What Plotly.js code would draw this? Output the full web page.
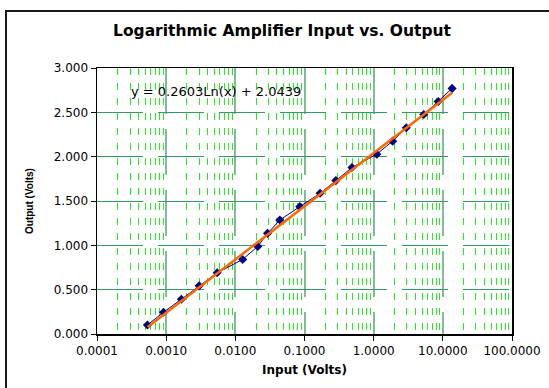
<!DOCTYPE html>
<html>
<head>
<meta charset="utf-8">
<script src="https://cdn.plot.ly/plotly-3.0.1.min.js"></script>
<style>
  html, body { margin: 0; padding: 0; background: #ffffff; overflow: hidden; }
  #wrap { position: relative; width: 549px; height: 388px; overflow: hidden; }
  #chart { position: absolute; left: 0; top: 0; width: 549px; height: 388px; }
  #frame { position: absolute; left: 5px; top: 10px; width: 544px; height: 378px;
           border-left: 2px solid #1a1a1a; border-top: 2px solid #1a1a1a;
           border-right: none; border-bottom: none;
           pointer-events: none; box-sizing: border-box; }
</style>
</head>
<body>
<div id="wrap">
  <div id="chart"></div>
  <div id="frame"></div>
</div>
<script>
// Measured data (Input volts vs Output volts)
const inputVolts  = [0.000536, 0.000916, 0.00166, 0.0030, 0.00546, 0.01276, 0.0211, 0.0292, 0.0440,
                     0.0855, 0.168, 0.284, 0.485, 1.11, 1.88, 2.96, 5.30, 8.55, 13.6];
const outputVolts = [0.102, 0.245, 0.392, 0.543, 0.690, 0.841, 0.988, 1.135, 1.285,
                     1.436, 1.587, 1.730, 1.877, 2.028, 2.175, 2.326, 2.476, 2.623, 2.770];

// Logarithmic trendline end points
const trendX = [0.00054, 13.6];
const trendY = [0.080, 2.722];

const trendLabel = "y = 0.2603Ln(x) + 2.0439";

const yTickVals = [0, 0.5, 1, 1.5, 2, 2.5, 3];
const xTickVals = [0.0001, 0.001, 0.01, 0.1, 1, 10, 100];
const xTickText = ["0.0001", "0.0010", "0.0100", "0.1000", "1.0000", "10.0000", "100.0000"];

// minor gridline positions 2..9 per decade
const minorVals = [];
for (let e = -4; e < 2; e++) {
  for (let m = 2; m <= 9; m++) minorVals.push(m * Math.pow(10, e));
}

const traces = [
  {
    x: inputVolts, y: outputVolts, type: 'scatter', mode: 'lines+markers',
    line: { color: '#000080', width: 1 },
    marker: { symbol: 'diamond', size: 7, color: '#000080' },
    hoverinfo: 'x+y'
  },
  {
    x: trendX, y: trendY, type: 'scatter', mode: 'lines',
    line: { color: '#FF6600', width: 2.5 },
    hoverinfo: 'skip'
  }
];

const layout = {
  width: 549, height: 388,
  margin: { l: 97, r: 37, t: 68, b: 54 },
  paper_bgcolor: '#ffffff', plot_bgcolor: '#ffffff',
  showlegend: false,
  font: { family: 'DejaVu Sans, Arial, sans-serif', color: '#000000', size: 12 },
  title: {
    text: 'Logarithmic Amplifier Input vs. Output',
    font: { family: 'DejaVu Sans, Arial, sans-serif', size: 15.5, color: '#000000', weight: 'bold' },
    x: 282 / 549, xanchor: 'center', y: 1 - 31 / 388, yanchor: 'middle', xref: 'container', yref: 'container'
  },
  xaxis: {
    type: 'log', range: [-4, 2],
    tickvals: xTickVals, ticktext: xTickText,
    ticks: 'outside', ticklen: 5, tickcolor: '#000000', tickwidth: 1,
    showline: true, linecolor: '#000000', linewidth: 1.5, mirror: true,
    showgrid: true, gridcolor: '#84b99c', gridwidth: 2, griddash: '46px,15px',
    minor: { tickmode: 'array', tickvals: minorVals, showgrid: true, gridcolor: '#22ee22',
             gridwidth: 1, griddash: '7px,8px', ticks: '' },
    tickfont: { family: 'DejaVu Sans, Arial, sans-serif', size: 12 },
    title: { text: 'Input (Volts)', standoff: 8,
             font: { family: 'DejaVu Sans, Arial, sans-serif', size: 12, weight: 'bold' } },
    zeroline: false, fixedrange: true
  },
  yaxis: {
    range: [0, 3],
    tickvals: yTickVals, tickformat: '.3f',
    ticks: 'outside', ticklen: 5, tickcolor: '#000000', tickwidth: 1,
    showline: true, linecolor: '#000000', linewidth: 1.5, mirror: true,
    showgrid: true, gridcolor: '#339966', gridwidth: 1, griddash: '46px,15px',
    tickfont: { family: 'DejaVu Sans, Arial, sans-serif', size: 12 },
    title: { text: 'Output (Volts)', standoff: 18,
             font: { family: 'Liberation Sans, Arial, sans-serif', size: 10, weight: 'bold' } },
    zeroline: false, fixedrange: true
  },
  annotations: [
    {
      text: trendLabel, xref: 'paper', yref: 'paper',
      x: (129 - 97) / 415, xanchor: 'left', y: (334 - 91.5) / 266, yanchor: 'middle',
      showarrow: false, font: { family: 'DejaVu Sans, Arial, sans-serif', size: 13, color: '#000000' }
    }
  ]
};

Plotly.newPlot('chart', traces, layout, { staticPlot: true, displayModeBar: false });
</script>
</body>
</html>
